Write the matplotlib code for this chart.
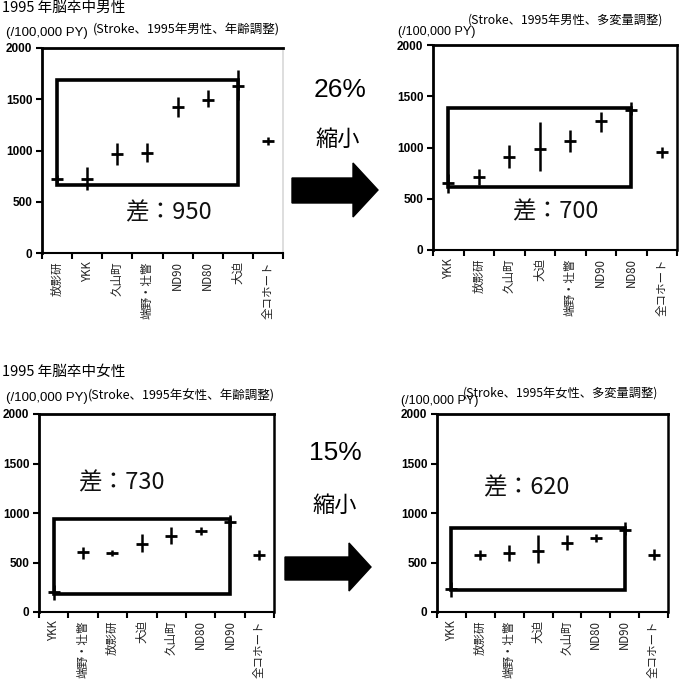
import matplotlib.pyplot as plt
from matplotlib.patches import Rectangle, Polygon

plt.rcParams['font.family'] = ['Noto Sans CJK JP', 'DejaVu Sans']

W, H = 682, 695

# 男性・年齢調整
m_age_labels = ['放影研', 'YKK', '久山町', '端野・壮瞥', 'ND90', 'ND80', '大迫', '全コホート']
m_age_val = [720, 725, 965, 980, 1420, 1490, 1630, 1090]
m_age_lo = [680, 615, 860, 885, 1330, 1425, 1490, 1055]
m_age_hi = [760, 840, 1070, 1070, 1520, 1590, 1785, 1135]
m_age_box = (0, 6, 660, 1690)

# 男性・多変量調整
m_mv_labels = ['YKK', '放影研', '久山町', '大迫', '端野・壮瞥', 'ND90', 'ND80', '全コホート']
m_mv_val = [655, 710, 905, 990, 1065, 1260, 1370, 955]
m_mv_lo = [560, 635, 800, 775, 960, 1155, 1315, 900]
m_mv_hi = [740, 795, 1025, 1250, 1170, 1350, 1445, 1005]
m_mv_box = (0, 6, 610, 1390)

# 女性・年齢調整
f_age_labels = ['YKK', '端野・壮瞥', '放影研', '大迫', '久山町', 'ND80', 'ND90', '全コホート']
f_age_val = [200, 605, 600, 690, 765, 815, 905, 580]
f_age_lo = [120, 540, 565, 605, 690, 775, 860, 530]
f_age_hi = [270, 660, 630, 790, 860, 860, 975, 625]
f_age_box = (0, 6, 185, 935)

# 女性・多変量調整
f_mv_labels = ['YKK', '放影研', '端野・壮瞥', '大迫', '久山町', 'ND80', 'ND90', '全コホート']
f_mv_val = [230, 575, 595, 615, 695, 750, 830, 575]
f_mv_lo = [150, 525, 520, 490, 625, 710, 775, 525]
f_mv_hi = [300, 625, 675, 775, 775, 790, 910, 640]
f_mv_box = (0, 6, 225, 845)

fig = plt.figure(figsize=(W / 100, H / 100), dpi=100)


def px_rect(x0, y0, x1, y1):
    return [x0 / W, 1 - y1 / H, (x1 - x0) / W, (y1 - y0) / H]


def panel(rect, labels, val, lo, hi, box, diff, diff_xy, right_col):
    ax = fig.add_axes(rect)
    xs = list(range(len(labels)))
    ax.errorbar(xs, val, yerr=[[v - l for v, l in zip(val, lo)], [h - v for v, h in zip(val, hi)]],
                fmt='_', color='black', ecolor='black', elinewidth=1.8, capsize=0,
                markersize=9, markeredgewidth=2)
    i0, i1, ylo, yhi = box
    ax.add_patch(Rectangle((i0, ylo), i1 - i0, yhi - ylo, fill=False, lw=2.6, ec='black'))
    ax.text(diff_xy[0], diff_xy[1], diff, fontsize=17, ha='center', va='center', color='#111111')
    ax.set_xlim(-0.5, len(labels) - 0.5)
    ax.set_ylim(0, 2000)
    ax.set_yticks([0, 500, 1000, 1500, 2000])
    ax.set_yticklabels(['0', '500', '1000', '1500', '2000'], fontsize=8.5,
                       fontweight='bold', family='Liberation Sans')
    ax.set_xticks(xs)
    ax.set_xticklabels(labels, rotation=90, fontsize=8.3, color='#222222')
    ax.set_xticks([i - 0.5 for i in range(len(labels) + 1)], minor=True)
    ax.tick_params(axis='x', which='major', length=0, pad=6)
    ax.tick_params(axis='x', which='minor', length=4, width=1.5, direction='out')
    ax.tick_params(axis='y', length=4, width=1.5, direction='out', pad=3)
    for s in ['left', 'top']:
        ax.spines[s].set_linewidth(2)
    ax.spines['bottom'].set_linewidth(1.5)
    ax.spines['right'].set_color(right_col)
    ax.spines['right'].set_linewidth(1.2 if right_col != 'black' else 1.8)
    return ax


panel(px_rect(42, 48, 283, 253), m_age_labels, m_age_val, m_age_lo, m_age_hi, m_age_box,
      '差：950', (3.7, 390), '#d8d8d8')
panel(px_rect(433, 45, 677, 250), m_mv_labels, m_mv_val, m_mv_lo, m_mv_hi, m_mv_box,
      '差：700', (3.5, 375), 'black')
panel(px_rect(39, 414, 274, 612), f_age_labels, f_age_val, f_age_lo, f_age_hi, f_age_box,
      '差：730', (2.3, 1300), 'black')
panel(px_rect(437, 414, 668, 612), f_mv_labels, f_mv_val, f_mv_lo, f_mv_hi, f_mv_box,
      '差：620', (2.6, 1250), 'black')


def ftext(x, y, s, **kw):
    fig.text(x / W, 1 - y / H, s, **kw)


# headers
ftext(2, 8, '1995 年脳卒中男性', fontsize=10.5, va='center', ha='left')
ftext(2, 372, '1995 年脳卒中女性', fontsize=10.5, va='center', ha='left')
ftext(6, 33, '(/100,000 PY)', fontsize=9.5, va='center', family='Liberation Sans')
ftext(93, 30, '(Stroke、1995年男性、年齢調整)', fontsize=9, va='center')
ftext(398, 32, '(/100,000 PY)', fontsize=9, va='center', family='Liberation Sans')
ftext(468, 20, '(Stroke、1995年男性、多変量調整)', fontsize=8.8, va='center')
ftext(6, 398, '(/100,000 PY)', fontsize=9.5, va='center', family='Liberation Sans')
ftext(88, 396, '(Stroke、1995年女性、年齢調整)', fontsize=9, va='center')
ftext(401, 401, '(/100,000 PY)', fontsize=9, va='center', family='Liberation Sans')
ftext(463, 393, '(Stroke、1995年女性、多変量調整)', fontsize=8.8, va='center')

# arrows and reduction text
ftext(340, 90, '26%', fontsize=19, ha='center', va='center', family='Liberation Sans')
ftext(338, 139, '縮小', fontsize=16, ha='center', va='center')
ftext(335, 453, '15%', fontsize=19, ha='center', va='center', family='Liberation Sans')
ftext(335, 505, '縮小', fontsize=16, ha='center', va='center')


def arrow(x0, x1, x2, ys0, ys1, yh0, yh1):
    pts = [(x0, ys0), (x1, ys0), (x1, yh0), (x2, (yh0 + yh1) / 2), (x1, yh1), (x1, ys1), (x0, ys1)]
    pts = [(x / W, 1 - y / H) for x, y in pts]
    fig.add_artist(Polygon(pts, closed=True, fc='black', ec='black', transform=fig.transFigure))


arrow(292, 353, 378, 178, 203, 163, 217)
arrow(285, 349, 371, 557, 580, 543, 591)

plt.savefig('out.png', dpi=100)
